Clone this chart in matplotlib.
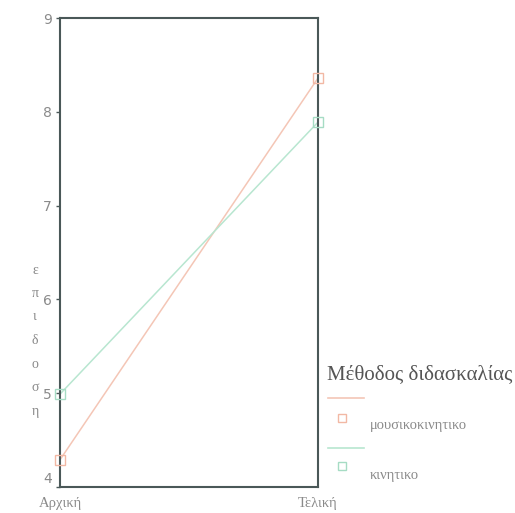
import matplotlib
matplotlib.use("Agg")
import matplotlib.pyplot as plt
import matplotlib.transforms as mtransforms
from matplotlib.lines import Line2D

categories = ["Αρχική", "Τελική"]
series_names = ["μουσικοκινητικο", "κινητικο"]
musikokinitiko = [4.29, 8.36]
kinitiko = [4.99, 7.89]
y_ticks = [4, 5, 6, 7, 8, 9]
legend_title = "Μέθοδος διδασκαλίας"
y_label = "επιδοση"

colors = ["#f2b8a4", "#a6dcc4"]
line_colors = ["#f4c6b6", "#b8e6d0"]

fig = plt.figure(figsize=(5.15, 5.13), dpi=100)
ax = fig.add_axes([0.1165, 0.0507, 0.501, 0.9142])

x = list(range(len(categories)))
for vals, c, lc in zip([musikokinitiko, kinitiko], colors, line_colors):
    ax.plot(x, vals, color=lc, lw=1.1, zorder=2)
    ax.plot(x, vals, ls="none", marker="s", ms=7, mfc="none", mec=c, mew=1.0,
            zorder=3, clip_on=False)

ax.set_xlim(0, 1)
ax.set_ylim(4, 9)
ax.set_yticks(y_ticks)
ax.set_yticklabels([str(t) for t in y_ticks], color="#8a8a8a",
                   fontsize=10, family="DejaVu Sans")
ax.set_xticks(x)
ax.set_xticklabels(categories, color="#8a8a8a", fontsize=10.5,
                   family="Liberation Serif")
ax.tick_params(axis="y", length=3, width=1.0, color="#4a5858", pad=3, direction="out")
ax.tick_params(axis="x", length=0, pad=7)
for s in ax.spines.values():
    s.set_color("#4a5858")
    s.set_linewidth(1.5)

# lowest y tick label sits slightly above the bottom spine, as in the reference
lab4 = ax.get_yticklabels()[0]
lab4.set_transform(lab4.get_transform() +
                   mtransforms.ScaledTranslation(0, 9 / 100, fig.dpi_scale_trans))

# stacked y label
for i, ch in enumerate(y_label):
    fig.text(35 / 515, 1 - (270 + i * 23.5) / 513, ch, ha="center", va="center",
             fontsize=10, color="#8a8a8a", family="Liberation Serif")

# legend
fig.text(327 / 515, 1 - 375 / 513, legend_title, ha="left", va="center",
         fontsize=15, color="#555555", family="Liberation Serif")
rows = [(398, 418, 425), (448, 466, 475)]
for (ly, my, ty), c, lc, name in zip(rows, colors, line_colors, series_names):
    fig.add_artist(Line2D([328 / 515, 364 / 515], [1 - ly / 513, 1 - ly / 513],
                          color=lc, lw=1.2, transform=fig.transFigure))
    fig.add_artist(Line2D([342 / 515], [1 - my / 513], ls="none", marker="s",
                          ms=6, mfc="none", mec=c, mew=1.0,
                          transform=fig.transFigure))
    fig.text(370 / 515, 1 - ty / 513, name, ha="left", va="center",
             fontsize=10.5, color="#8a8a8a", family="Liberation Serif")

fig.savefig("out.png", dpi=100, facecolor="white")
